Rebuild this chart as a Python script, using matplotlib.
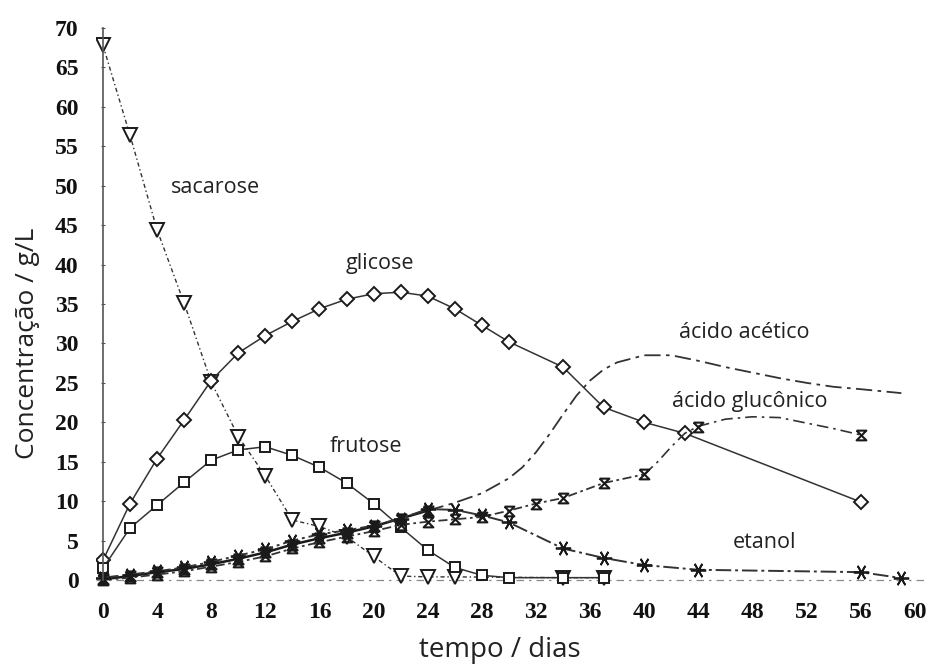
import matplotlib.pyplot as plt
from matplotlib.path import Path

# concentracoes (g/L) ao longo do tempo (dias)
dias_sac = [0, 2, 4, 6, 8, 10, 12, 14, 16, 18, 20, 22, 24, 26, 34, 37]
sacarose = [67.8, 56.4, 44.4, 35.1, 25.1, 18.2, 13.2, 7.6, 6.8, 5.5, 3.0, 0.5, 0.4, 0.4, 0.3, 0.3]

dias_gli = [0, 2, 4, 6, 8, 10, 12, 14, 16, 18, 20, 22, 24, 26, 28, 30, 34, 37, 40, 43, 56]
glicose = [2.5, 9.7, 15.4, 20.3, 25.3, 28.8, 31.0, 32.8, 34.4, 35.6, 36.3, 36.5, 36.0, 34.4, 32.3, 30.2,
           27.0, 21.9, 20.0, 18.6, 9.9]

dias_fru = [0, 2, 4, 6, 8, 10, 12, 14, 16, 18, 20, 22, 24, 26, 28, 30, 34, 37]
frutose = [1.5, 6.6, 9.5, 12.4, 15.2, 16.5, 16.9, 15.8, 14.3, 12.3, 9.7, 6.7, 3.8, 1.6, 0.6, 0.3, 0.3, 0.3]

dias_eta = [0, 2, 4, 6, 8, 10, 12, 14, 16, 18, 20, 22, 24, 26, 28, 30, 34, 37, 40, 44, 56, 59]
etanol = [0.3, 0.7, 1.1, 1.6, 2.3, 3.1, 3.9, 5.0, 5.8, 6.3, 6.9, 7.8, 9.0, 8.9, 8.2, 7.3, 4.0, 2.8,
          1.9, 1.3, 1.0, 0.25]

dias_ace = [0, 2, 4, 6, 8, 10, 12, 14, 16, 18, 20, 22, 24]
acetico = [0.1, 0.5, 1.0, 1.4, 2.0, 2.7, 3.5, 4.5, 5.3, 6.0, 6.8, 7.8, 8.8]
# trecho suavizado do acido acetico
dias_ace_curva = [24, 26, 28, 30, 31, 32, 33, 34, 35, 36, 37, 38, 40, 42, 44, 46, 48, 50, 52, 54, 56, 59]
acetico_curva = [8.8, 9.8, 11.0, 12.9, 14.3, 16.2, 18.5, 21.0, 23.4, 25.3, 26.7, 27.6, 28.5, 28.5,
                 27.8, 27.0, 26.3, 25.6, 25.0, 24.5, 24.2, 23.7]

dias_glu = [0, 2, 4, 6, 8, 10, 12, 14, 16, 18, 20, 22, 24, 26, 28, 30, 32, 34, 37, 40, 44, 56]
gluconico = [0.0, 0.3, 0.7, 1.1, 1.7, 2.3, 3.0, 4.0, 4.8, 5.5, 6.2, 7.0, 7.4, 7.7, 8.0, 8.8, 9.7,
             10.4, 12.3, 13.4, 19.4, 18.4]
# trecho suavizado do acido gluconico
dias_glu_curva = [40, 41, 42, 43, 44, 46, 48, 50, 52, 54, 56]
gluconico_curva = [13.4, 15.0, 16.9, 18.6, 19.5, 20.4, 20.7, 20.6, 19.9, 19.2, 18.4]

x_ticks = list(range(0, 61, 4))
y_ticks = list(range(0, 71, 5))

# marcador em forma de ampulheta
ampulheta = Path([(-1, 1), (1, 1), (-1, -1), (1, -1), (-1, 1)],
                 [Path.MOVETO, Path.LINETO, Path.LINETO, Path.LINETO, Path.LINETO])

cor = '#1a1a1a'
cor_linha = '#333333'

fig = plt.figure(figsize=(9.34, 6.7), dpi=100)
ax = fig.add_axes([0.103, 0.1225, 0.891, 0.8475])

ax.plot(dias_sac, sacarose, linestyle=(0, (3, 2, 1, 2)), color=cor_linha, lw=1.0,
        marker='v', ms=10, mfc='white', mec=cor, mew=1.4)
ax.plot(dias_gli, glicose, '-', color=cor_linha, lw=1.1,
        marker='D', ms=7, mfc='white', mec=cor, mew=1.4)
ax.plot(dias_fru, frutose, '-', color=cor_linha, lw=1.1,
        marker='s', ms=7.5, mfc='white', mec=cor, mew=1.4)

ax.plot(dias_ace_curva, acetico_curva, linestyle=(0, (9, 3, 2, 3)), color=cor_linha, lw=1.3)
ax.plot(dias_ace, acetico, '-', color=cor, lw=1.8,
        marker=ampulheta, ms=7, mfc=cor, mec=cor, mew=1.8)

ax.plot(dias_glu_curva, gluconico_curva, linestyle=(0, (7, 3, 1.5, 3)), color=cor_linha, lw=1.2)
ax.plot(dias_glu[:-2], gluconico[:-2], linestyle=(0, (5, 2, 1.5, 2)), color=cor_linha, lw=1.3,
        marker=ampulheta, ms=7, mfc='none', mec=cor, mew=1.5)
ax.plot(dias_glu[-2:], gluconico[-2:], linestyle='none',
        marker=ampulheta, ms=7, mfc='none', mec=cor, mew=1.5)

ax.plot(dias_eta, etanol, linestyle=(0, (8, 2, 1.5, 2)), color=cor_linha, lw=1.4,
        marker=(6, 2, 90), ms=11, mec=cor, mew=1.3)

# linha de base tracejada
ax.axhline(0, color='#8a8a8a', lw=0.9, linestyle=(0, (6, 4, 2, 4)), zorder=0)

ax.set_xlim(-0.5, 61)
ax.set_ylim(-1, 71)
for lado in ['top', 'right', 'bottom']:
    ax.spines[lado].set_visible(False)
ax.spines['left'].set_position(('data', 0))
ax.spines['left'].set_bounds(0, 70)
ax.spines['left'].set_color('#555555')
ax.spines['left'].set_linewidth(1.2)

ax.set_xticks(x_ticks)
ax.set_yticks(y_ticks)
ax.tick_params(axis='x', length=0, pad=10)
ax.tick_params(axis='y', length=3, direction='inout', color='#555555', pad=16)
for lbl in ax.get_xticklabels() + ax.get_yticklabels():
    lbl.set_fontfamily('Liberation Serif')
    lbl.set_fontweight('bold')
    lbl.set_fontsize(17)
    lbl.set_color('#111111')

fonte = 'Open Sans'
ax.set_xlabel('tempo / dias', fontfamily=fonte, fontsize=20, color='#222222')
ax.set_ylabel('Concentração / g/L', fontfamily=fonte, fontsize=19, color='#222222')
ax.xaxis.set_label_coords(0.485, -0.085)
ax.yaxis.set_label_coords(-0.068, 0.431)

rot = dict(fontfamily=fonte, fontsize=15.5, color='#222222', ha='center', va='center')
ax.text(8.3, 49.8, 'sacarose', **rot)
ax.text(20.5, 40.2, 'glicose', **rot)
ax.text(19.4, 16.9, 'frutose', **rot)
ax.text(47.4, 31.4, 'ácido acético', **rot)
ax.text(47.8, 22.6, 'ácido glucônico', **rot)
ax.text(48.9, 4.7, 'etanol', **rot)

fig.savefig('out.png', dpi=100, facecolor='white')
